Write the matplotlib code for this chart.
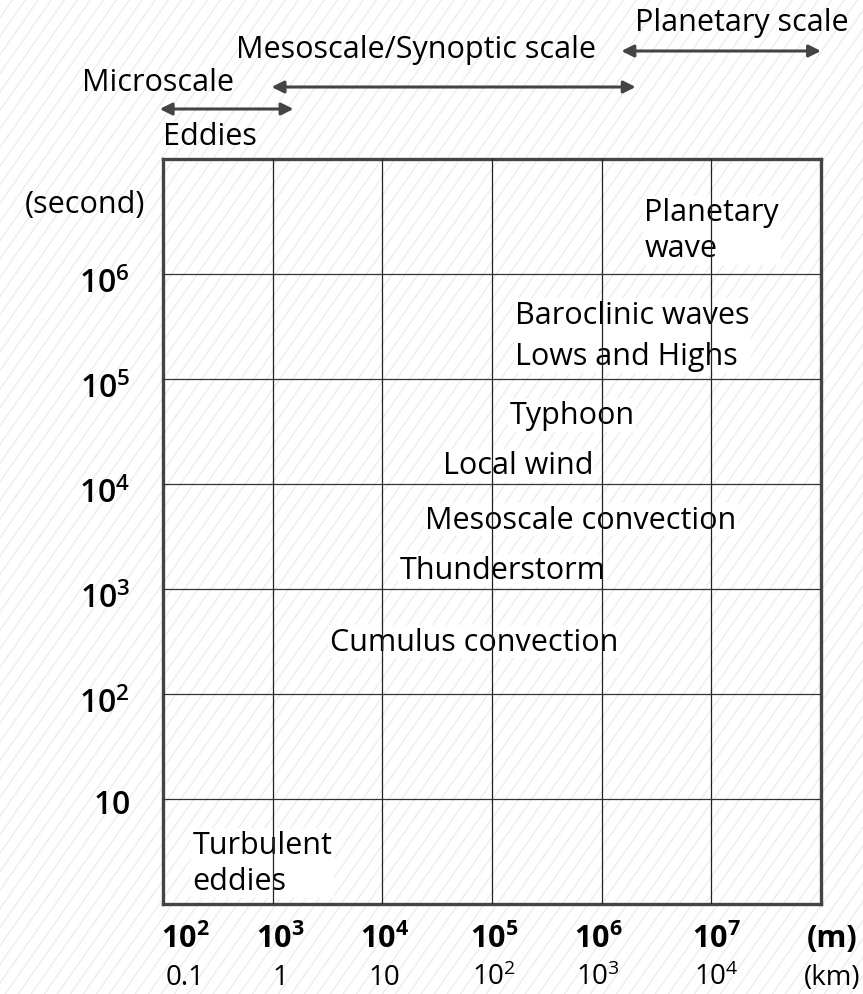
import numpy as np
import matplotlib
matplotlib.use("Agg")
from matplotlib import pyplot as plt
from matplotlib.lines import Line2D
from matplotlib.patches import FancyArrowPatch

plt.rcParams['font.family'] = ['Open Sans', 'DejaVu Sans']
plt.rcParams['mathtext.fontset'] = 'custom'
plt.rcParams['mathtext.rm'] = 'Open Sans'
plt.rcParams['mathtext.bf'] = 'Open Sans:bold'
plt.rcParams['mathtext.sf'] = 'Open Sans:semibold'

# spatial scale (m) grid exponents, time scale (s) grid exponents
x_grid_exp = [3, 4, 5, 6, 7]
y_grid_exp = [1, 2, 3, 4, 5, 6]

x_labels_m = [r'$\mathbf{10^{2}}$', r'$\mathbf{10^{3}}$', r'$\mathbf{10^{4}}$',
              r'$\mathbf{10^{5}}$', r'$\mathbf{10^{6}}$', r'$\mathbf{10^{7}}$', '(m)']
x_labels_km = ['0.1', '1', '10', r'$\mathrm{10^{2}}$', r'$\mathrm{10^{3}}$',
               r'$\mathrm{10^{4}}$', '(km)']
x_label_pos = [2.2, 3.07, 4.02, 5.02, 5.97, 7.05, 8.1]

y_labels = [r'$\mathsf{10}$', r'$\mathsf{10^{2}}$', r'$\mathsf{10^{3}}$',
            r'$\mathsf{10^{4}}$', r'$\mathsf{10^{5}}$', r'$\mathsf{10^{6}}$']

phenomena = ['Planetary\nwave', 'Baroclinic waves\nLows and Highs', 'Typhoon',
             'Local wind', 'Mesoscale convection', 'Thunderstorm',
             'Cumulus convection', 'Turbulent\neddies']
phen_x = [6.39, 5.21, 5.16, 4.55, 4.39, 4.16, 3.52, 2.27]
phen_y = [6.42, 5.42, 4.66, 4.18, 3.66, 3.18, 2.50, 0.39]
phen_spacing = [1.27, 1.5, 1.2, 1.2, 1.2, 1.2, 1.2, 1.27]

# scale ranges (log10 m) shown by the arrows above the chart
scale_names = ['Eddies', 'Mesoscale/Synoptic scale', 'Planetary scale']
scale_ranges = [(1.97, 3.19), (2.99, 6.31), (6.18, 8.0)]

W, H = 863, 995
fig = plt.figure(figsize=(W / 100, H / 100), dpi=100)

# diagonal hatching over the whole background
ang = np.deg2rad(55)
dx = H / np.tan(ang)
for x0 in np.arange(-dx, W + 20, 13):
    fig.add_artist(Line2D([x0 / W, (x0 + dx) / W], [0, 1], transform=fig.transFigure,
                          color='#ebebeb', lw=0.9, zorder=0))

ax = fig.add_axes([163 / W, 1 - 905 / H, (821 - 163) / W, (905 - 160) / H])
ax.patch.set_alpha(0)
ax.set_xscale('log')
ax.set_yscale('log')
ax.set_xlim(1e2, 1e8)
ax.set_ylim(1, 10 ** 7.1)
ax.set_xticks([])
ax.set_yticks([])
ax.minorticks_off()
for s in ax.spines.values():
    s.set_color('#444444')
    s.set_linewidth(2.4)

for e in x_grid_exp:
    ax.axvline(10 ** e, color='#222222', lw=0.9, zorder=4)
for e in y_grid_exp:
    ax.axhline(10 ** e, color='#333333', lw=0.9, zorder=4)

for name, x, y, ls in zip(phenomena, phen_x, phen_y, phen_spacing):
    ax.text(10 ** x, 10 ** y, name, fontsize=22, ha='left', va='center',
            linespacing=ls, zorder=3,
            bbox=dict(facecolor='white', edgecolor='none', pad=1))

# y labels
for lab, e in zip(y_labels, y_grid_exp):
    shift = 0.05 if e == 1 else 0.09
    ax.text(-0.05, 10 ** (e - shift), lab, transform=ax.get_yaxis_transform(),
            fontsize=23, ha='right', va='center')
ax.text(-0.027, 10 ** 6.67, '(second)', transform=ax.get_yaxis_transform(),
        fontsize=22, ha='right', va='center')

# x labels: bold metres row and km row
for lab, lab_km, p in zip(x_labels_m, x_labels_km, x_label_pos):
    ax.text(10 ** p, -0.046, lab, transform=ax.get_xaxis_transform(),
            fontsize=22, fontweight='bold', ha='center', va='center')
    ax.text(10 ** p, -0.098, lab_km, transform=ax.get_xaxis_transform(),
            fontsize=20, ha='center', va='center')

# scale arrows above the chart
arrow_y = [1 - 110 / H, 1 - 88 / H, 1 - 52 / H]
for (a, b), yy in zip(scale_ranges, arrow_y):
    xa = ax.transData.transform((10 ** a, 1))[0] / W
    xb = ax.transData.transform((10 ** b, 1))[0] / W
    fig.add_artist(FancyArrowPatch(
        (xa, yy), (xb, yy), transform=fig.transFigure, arrowstyle='<|-|>',
        mutation_scale=18, color='#444444', lw=2.2, shrinkA=0, shrinkB=0))

fig.text(163 / W, 1 - 137 / H, 'Eddies', fontsize=22, ha='left', va='center')
fig.text(82 / W, 1 - 83 / H, 'Microscale', fontsize=22, ha='left', va='center')
fig.text(236 / W, 1 - 50 / H, 'Mesoscale/Synoptic scale', fontsize=22, ha='left', va='center')
fig.text(635 / W, 1 - 23 / H, 'Planetary scale', fontsize=22, ha='left', va='center')

fig.savefig('out.png', dpi=100)
